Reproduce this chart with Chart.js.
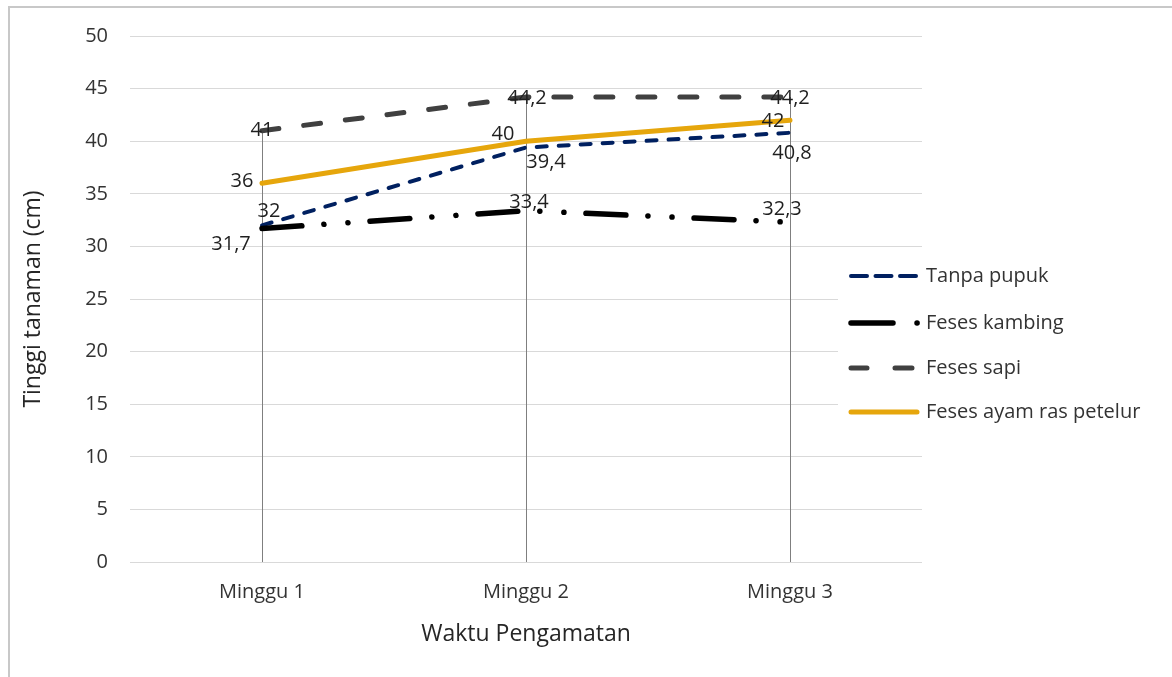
<!DOCTYPE html>
<html>
<head>
<meta charset="utf-8">
<script src="https://cdn.jsdelivr.net/npm/chart.js@4"></script>
<style>
  html, body { margin: 0; padding: 0; background: #fff; }
  canvas { display: block; }
</style>
</head>
<body>
<canvas id="c" width="1172" height="677"></canvas>
<script>
// Plant height (cm) per observation week
const categories   = ['Minggu 1', 'Minggu 2', 'Minggu 3'];
const tanpaPupuk   = [32, 39.4, 40.8];
const fesesKambing = [31.7, 33.4, 32.3];
const fesesSapi    = [41, 44.2, 44.2];
const fesesAyam    = [36, 40, 42];
const seriesNames  = ['Tanpa pupuk', 'Feses kambing', 'Feses sapi', 'Feses ayam ras petelur'];
const yTickValues  = [0, 5, 10, 15, 20, 25, 30, 35, 40, 45, 50];

const FONT = '"Open Sans", "Noto Sans", sans-serif';
const TEXT = '#333333';

// Label offsets (px) from each point, per series
const labelOffsets = [
  [[7, -14], [20, 15], [2, 21]],
  [[-31, 16], [3, -8], [-8, -13]],
  [[0, 0], [1, 1], [0, 1]],
  [[-20, -2], [-23, -7], [-17, 1]]
];

const fmt = v => String(v).replace('.', ',');

// Outer frame (top and left edges)
const framePlugin = {
  id: 'frame',
  beforeDraw(chart) {
    const ctx = chart.ctx;
    ctx.save();
    ctx.fillStyle = '#ffffff';
    ctx.fillRect(0, 0, chart.width, chart.height);
    ctx.strokeStyle = '#c8c8c8';
    ctx.lineWidth = 2;
    ctx.beginPath();
    ctx.moveTo(9, chart.height);
    ctx.lineTo(9, 7);
    ctx.lineTo(chart.width, 7);
    ctx.stroke();
    ctx.restore();
  }
};

// Vertical drop lines from the highest value of each category to the axis
const dropLinesPlugin = {
  id: 'dropLines',
  beforeDatasetsDraw(chart) {
    const {ctx, scales: {x, y}} = chart;
    ctx.save();
    ctx.strokeStyle = '#7f7f7f';
    ctx.lineWidth = 1;
    categories.forEach((c, i) => {
      const top = Math.max(...chart.data.datasets.map(d => d.data[i]));
      const px = Math.round(x.getPixelForValue(i)) + 0.5;
      ctx.beginPath();
      ctx.moveTo(px, y.getPixelForValue(top));
      ctx.lineTo(px, y.getPixelForValue(0));
      ctx.stroke();
    });
    ctx.restore();
  }
};

// Value labels next to every point
const valueLabelsPlugin = {
  id: 'valueLabels',
  afterDatasetsDraw(chart) {
    const ctx = chart.ctx;
    ctx.save();
    ctx.font = '20px ' + FONT;
    ctx.fillStyle = '#1f1f1f';
    ctx.textAlign = 'center';
    ctx.textBaseline = 'middle';
    chart.data.datasets.forEach((ds, di) => {
      const meta = chart.getDatasetMeta(di);
      meta.data.forEach((pt, i) => {
        const off = labelOffsets[di][i];
        ctx.fillText(fmt(ds.data[i]), pt.x + off[0], pt.y + off[1]);
      });
    });
    ctx.restore();
  }
};

// Legend at the right, on a white panel over the plot
const legendPlugin = {
  id: 'sideLegend',
  afterDatasetsDraw(chart) {
    const ctx = chart.ctx;
    const rows = [276, 323, 368, 412];
    ctx.save();
    ctx.fillStyle = '#ffffff';
    ctx.fillRect(838, 252, 334, 182);
    chart.data.datasets.forEach((ds, i) => {
      const yy = rows[i];
      ctx.strokeStyle = ds.borderColor;
      ctx.lineWidth = ds.borderWidth;
      ctx.lineCap = 'round';
      ctx.setLineDash(seriesStyle[i].legendDash);
      ctx.beginPath();
      ctx.moveTo(851, yy);
      ctx.lineTo(921, yy);
      ctx.stroke();
      ctx.setLineDash([]);
      ctx.fillStyle = TEXT;
      ctx.font = '20px ' + FONT;
      ctx.textAlign = 'left';
      ctx.textBaseline = 'middle';
      ctx.fillText(ds.label, 926, yy);
    });
    ctx.restore();
  }
};

const seriesData = [tanpaPupuk, fesesKambing, fesesSapi, fesesAyam];
const seriesStyle = [
  {color: '#002060', width: 4,   dash: [10, 12],                    legendDash: [16, 8.5, 16, 8.5, 16, 100]},
  {color: '#000000', width: 5.5, dash: [40, 22, 0.1, 24, 0.1, 22],  legendDash: [42, 24, 0.1, 100]},
  {color: '#404040', width: 5,   dash: [17, 25],                    legendDash: [16, 28, 17, 100]},
  {color: '#E6A60C', width: 5,   dash: [],                          legendDash: [66, 100]}
];

new Chart(document.getElementById('c'), {
  type: 'line',
  data: {
    labels: categories,
    datasets: seriesData.map((d, i) => ({
      label: seriesNames[i],
      data: d,
      borderColor: seriesStyle[i].color,
      backgroundColor: seriesStyle[i].color,
      borderWidth: seriesStyle[i].width,
      borderDash: seriesStyle[i].dash,
      borderCapStyle: 'round',
      pointRadius: 0,
      tension: 0,
      fill: false,
      order: 4 - i
    }))
  },
  options: {
    responsive: false,
    animation: false,
    devicePixelRatio: 1,
    layout: { padding: { top: 36, right: 250, bottom: 0, left: 0 } },
    plugins: {
      legend: { display: false },
      tooltip: { enabled: false }
    },
    scales: {
      x: {
        offset: true,
        grid: { display: false, drawTicks: false },
        border: { display: false },
        ticks: { color: TEXT, font: { family: FONT, size: 20 }, padding: 18 },
        title: {
          display: true,
          text: 'Waktu Pengamatan',
          color: '#262626',
          font: { family: FONT, size: 23 },
          padding: { top: 0, bottom: 29 }
        },
        afterFit(s) { s.height = 115; }
      },
      y: {
        min: 0,
        max: 50,
        afterBuildTicks(s) { s.ticks = yTickValues.map(v => ({ value: v })); },
        grid: { color: '#d9d9d9', lineWidth: 1, drawTicks: false },
        border: { display: false },
        ticks: { color: TEXT, font: { family: FONT, size: 20 }, padding: 22 },
        title: {
          display: true,
          text: 'Tinggi tanaman (cm)',
          color: '#262626',
          font: { family: FONT, size: 23 },
          padding: { top: 20, bottom: 0 }
        },
        afterFit(s) { s.width = 130; }
      }
    }
  },
  plugins: [framePlugin, dropLinesPlugin, valueLabelsPlugin, legendPlugin]
});
</script>
</body>
</html>
